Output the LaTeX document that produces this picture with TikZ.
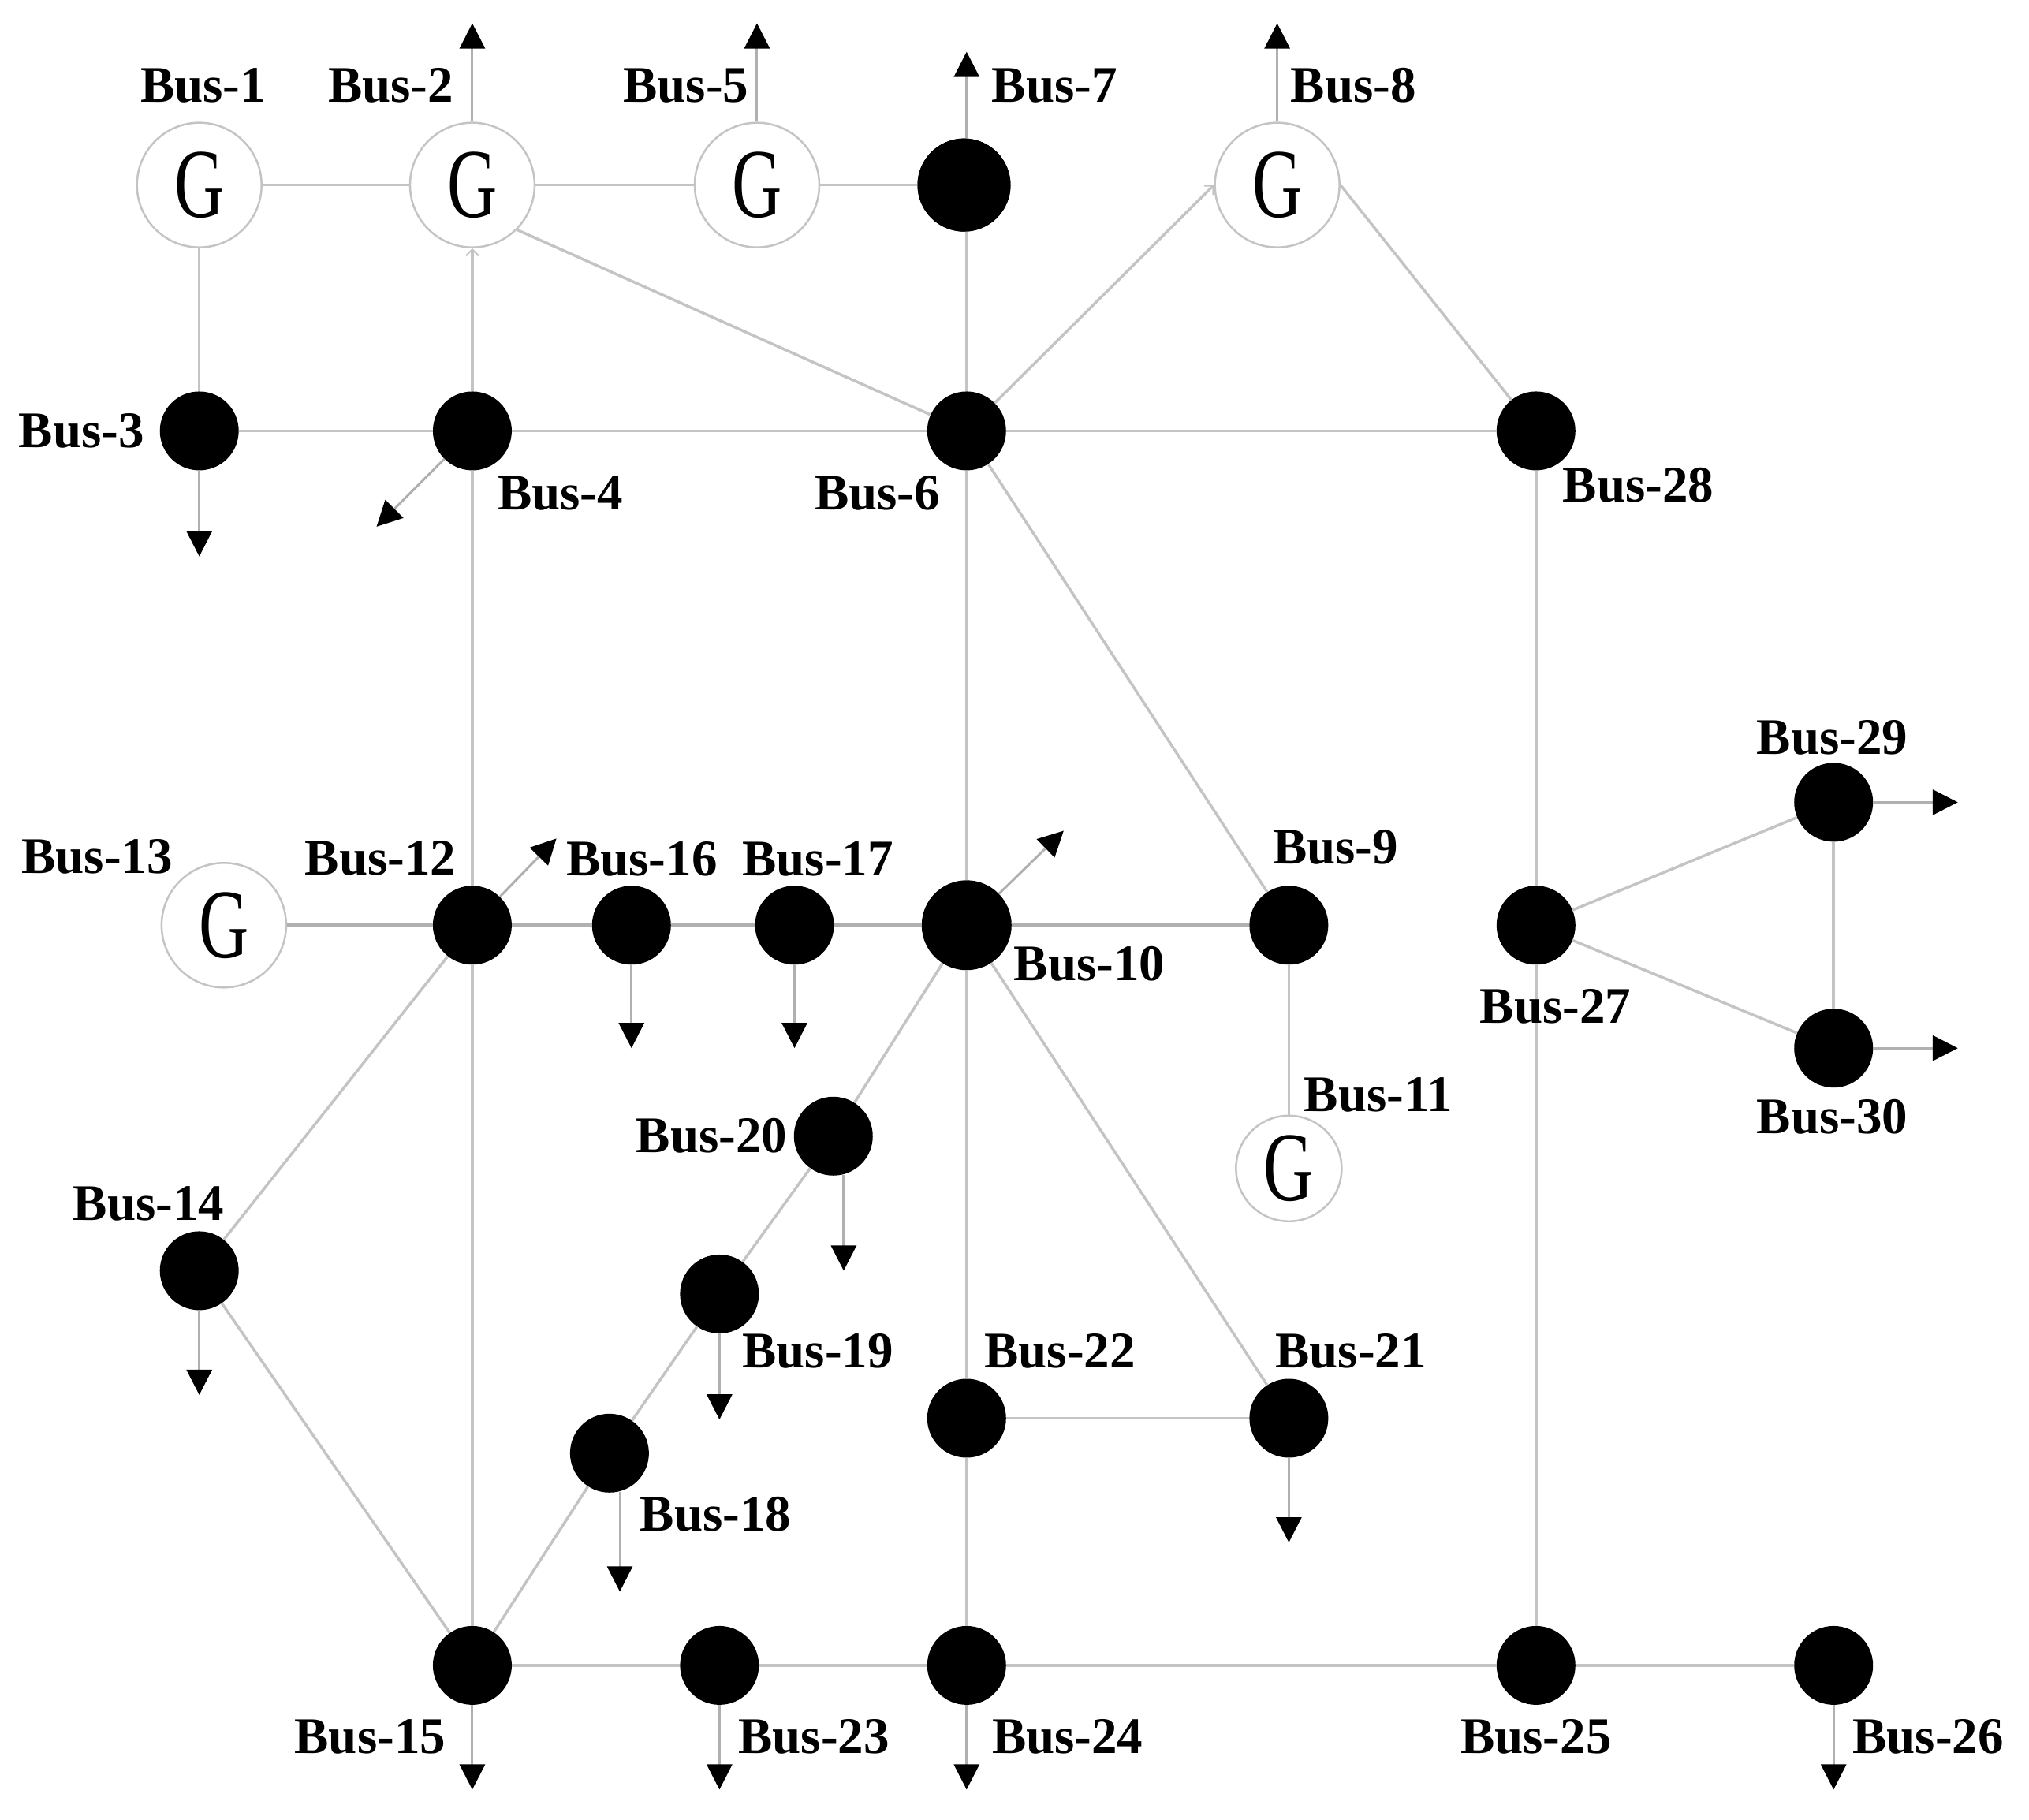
\documentclass[tikz,border=0pt]{standalone}
\usepackage{fontspec}
\usepackage{graphicx}
\setmainfont{Liberation Serif}
\usetikzlibrary{arrows.meta}
\definecolor{wire}{HTML}{C4C4C4}
\newcommand{\genG}{\scalebox{0.70}[1]{G}}
\tikzset{
  busdot/.style={circle,fill=black,draw=none,minimum size=100pt,inner sep=0pt},
  bigdot/.style={busdot,minimum size=114pt},
  gen/.style={circle,draw=wire,line width=2.5pt,fill=white,minimum size=158pt,inner sep=0pt,
     font=\fontsize{125}{125}\selectfont},
  buslabel/.style={font=\fontsize{65}{65}\selectfont\bfseries,inner sep=0pt,text=black},
  wireline/.style={draw=wire,line width=3.5pt},
  heavy/.style={draw=wire!90!black,line width=5pt},
  load/.style={draw=wire!90!black,line width=3pt,-{Triangle[length=32pt,width=32pt,color=black,fill=black]}},
  barb/.style={draw=wire,line width=3.5pt,-{Straight Barb[length=8pt,width=16pt,line width=2pt]}}
}
\begin{document}
\begin{tikzpicture}[x=1.641pt,y=-1.641pt]
\useasboundingbox (0,0) rectangle (1568,1406);
% free ends of load arrows
\foreach \n/\x/\y in {a2/365/18,a5/585/18,a7/747/40,a8/987/18,a3/154/430,a4/291/407,a12/430/648,a10/822/642,
  a16/488/810,a17/614/810,a20/652/982,s20/652/908,a19/556/1097,a18/479/1230,s18/479/1153,a14/154/1078,a21/996/1192,
  a15/365/1383,a23/556/1383,a24/747/1383,a26/1417/1383,a29/1513/620,a30/1513/810}
  \coordinate (\n) at (\x,\y);
% generators
\node[gen] (b1) at (154,143) {\genG};
\node[gen] (b2) at (365,143) {\genG};
\node[gen] (b5) at (585,143) {\genG};
\node[gen] (b8) at (987,143) {\genG};
\node[gen] (b13) at (173,715) {\genG};
\node[gen,minimum size=134pt] (b11) at (996,903) {\genG};
% plain buses
\node[busdot,minimum size=118pt] (b7) at (745,143) {};
\node[busdot] (b3) at (154,333) {};
\node[busdot] (b4) at (365,333) {};
\node[busdot] (b6) at (747,333) {};
\node[busdot] (b28) at (1187,333) {};
\node[busdot] (b12) at (365,715) {};
\node[busdot] (b16) at (488,715) {};
\node[busdot] (b17) at (614,715) {};
\node[bigdot] (b10) at (747,715) {};
\node[busdot] (b9) at (996,715) {};
\node[busdot] (b27) at (1187,715) {};
\node[busdot] (b29) at (1417,620) {};
\node[busdot] (b30) at (1417,810) {};
\node[busdot] (b20) at (644,878) {};
\node[busdot] (b19) at (556,1000) {};
\node[busdot] (b18) at (471,1123) {};
\node[busdot] (b14) at (154,982) {};
\node[busdot] (b22) at (747,1096) {};
\node[busdot] (b21) at (996,1096) {};
\node[busdot] (b15) at (365,1287) {};
\node[busdot] (b23) at (556,1287) {};
\node[busdot] (b24) at (747,1287) {};
\node[busdot] (b25) at (1187,1287) {};
\node[busdot] (b26) at (1417,1287) {};
% lines
\foreach \p/\q in {b1/b2,b2/b5,b5/b7,b1/b3,b3/b4,b4/b6,b6/b28,b2.-45/b6,b8.east/b28,
  b4/b12,b6/b10,b6/b9,b9/b11,b28/b27,b27/b29,b27/b30,b29/b30,b27/b25,
  b12/b15,b12/b14,b14/b15,b10/b20,b20/b19,b19/b18,b18/b15,b10/b22,b22/b24,b10/b21,b22/b21,
  b15/b23,b23/b24,b24/b25,b25/b26}
  \draw[wireline] (\p) -- (\q);
\draw[wireline] (b6) -- (b6 |- b7);
\foreach \p/\q in {b13/b12,b12/b16,b16/b17,b17/b10,b10/b9}
  \draw[heavy] (\p) -- (\q);
\draw[barb] (b4) -- (b2);
\draw[barb] (b6) -- (b8.west);
% load arrows
\foreach \p/\q in {b2/a2,b5/a5,b8/a8,b3/a3,b4/a4,b12/a12,b10/a10,b16/a16,b17/a17,b19/a19,b14/a14,b21/a21,
  b15/a15,b23/a23,b24/a24,b26/a26,b29/a29,b30/a30}
  \draw[load] (\p) -- (\q);
\draw[load] (s20) -- (a20);
\draw[load] (s18) -- (a18);
\draw[load] (a7 |- b7) -- (a7);
\node[busdot,minimum size=118pt] at (b7) {};
% labels
\foreach \n/\t/\x/\y in {l1/Bus-1/157/66,l2/Bus-2/302/66,l5/Bus-5/530/66,l7/Bus-7/815/66,l8/Bus-8/1046/66,
  l3/Bus-3/63/333,l4/Bus-4/433/381,l6/Bus-6/678/381,l28/Bus-28/1266/375,l29/Bus-29/1416/570,l30/Bus-30/1416/863,
  l27/Bus-27/1202/778,l13/Bus-13/75/662,l12/Bus-12/294/663,l16/Bus-16/496/664,l17/Bus-17/632/664,l10/Bus-10/842/745,
  l9/Bus-9/1032/655,l11/Bus-11/1065/846,l20/Bus-20/550/878,l14/Bus-14/115/930,l19/Bus-19/632/1044,l22/Bus-22/819/1044,
  l21/Bus-21/1044/1044,l18/Bus-18/553/1170,l15/Bus-15/286/1342,l23/Bus-23/629/1342,l24/Bus-24/825/1342,
  l25/Bus-25/1187/1342,l26/Bus-26/1490/1342}
  \node[buslabel] (\n) at (\x,\y) {\t};
\end{tikzpicture}
\end{document}
